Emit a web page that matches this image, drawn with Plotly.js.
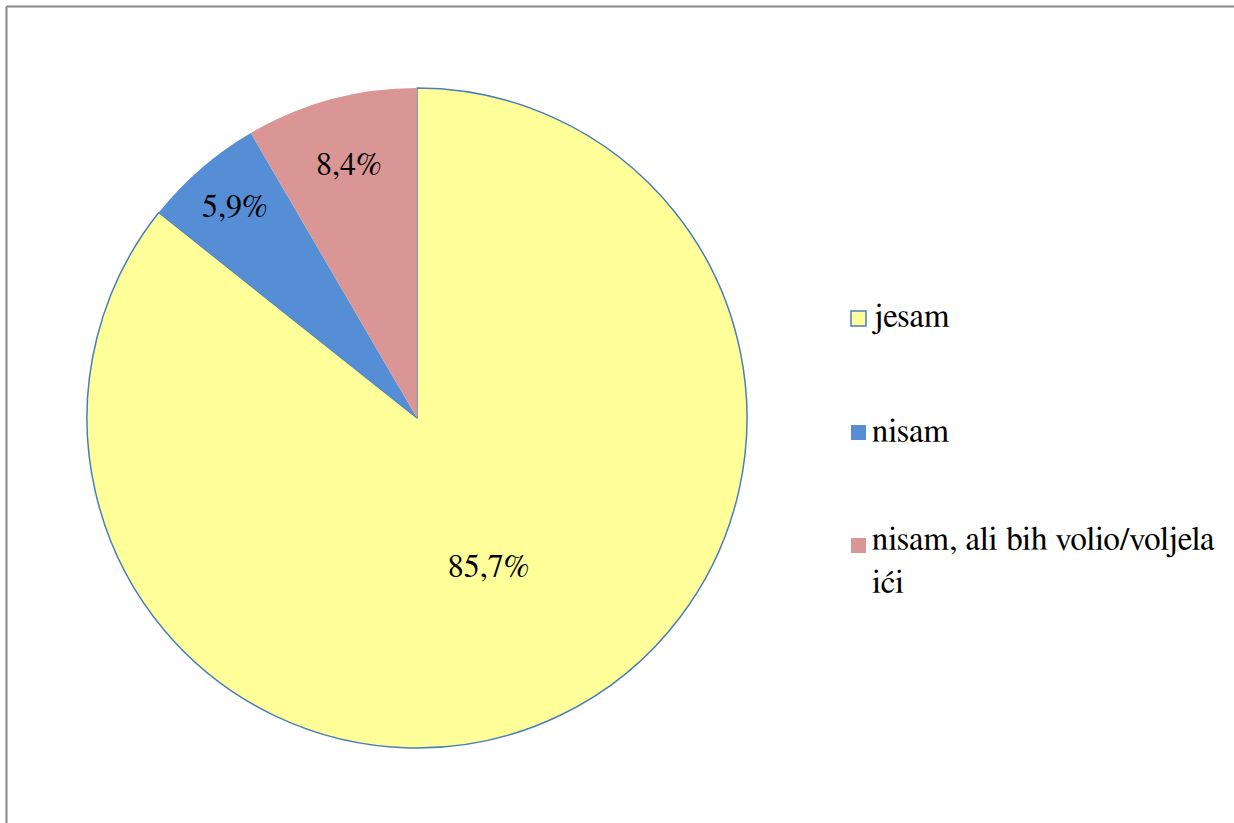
<!DOCTYPE html>
<html>
<head>
<meta charset="utf-8">
<script src="https://cdn.plot.ly/plotly-3.0.1.min.js"></script>
<style>
html,body{margin:0;padding:0;background:#fff;}
#chart{width:1234px;height:823px;}
</style>
</head>
<body>
<div id="chart"></div>
<script>
const categories = ["jesam", "nisam", "nisam, ali bih volio/voljela<br>ići"];
const values = [85.7, 5.9, 8.4];
const valueLabels = ["85,7%", "5,9%", "8,4%"];
const colors = ["#FFFF99", "#558ED5", "#D99694"];

const W = 1234, H = 823;
const FONT = "FreeSerif";

const trace = {
  type: "pie",
  labels: categories,
  values: values,
  text: valueLabels,
  texttemplate: "%{text}",
  textinfo: "text",
  textposition: "inside",
  insidetextorientation: "horizontal",
  insidetextfont: {family: FONT, size: 32, color: "#000"},
  sort: false,
  direction: "clockwise",
  rotation: 0,
  marker: {
    colors: colors,
    line: {color: ["#4A7EBB", "rgba(0,0,0,0)", "rgba(0,0,0,0)"], width: [1.5, 0, 0]}
  },
  domain: {x: [87/W, 747/W], y: [(H-748)/H, (H-88)/H]},
  hoverinfo: "none",
  showlegend: false
};

// legend drawn from categories/colors
const legendY = [318, 432, 545];
const annotations = [];
const shapes = [];
categories.forEach((c, i) => {
  annotations.push({
    xref: "paper", yref: "paper",
    x: 870/W, y: (H - legendY[i])/H,
    xanchor: "left", yanchor: i === 2 ? "top" : "middle",
    yshift: i === 2 ? 23 : 0,
    align: "left",
    showarrow: false,
    text: c,
    font: {family: FONT, size: 33, color: "#000"}
  });
  shapes.push({
    type: "rect", xref: "paper", yref: "paper",
    x0: 851/W, x1: 866/W,
    y0: (H - legendY[i] - 8)/H, y1: (H - legendY[i] + 7)/H,
    fillcolor: colors[i],
    line: {color: i === 0 ? "#4A7EBB" : colors[i], width: i === 0 ? 1.5 : 0}
  });
});
// outer frame (top and left edges)
shapes.push({type: "line", xref: "paper", yref: "paper", x0: 6.5/W, x1: 1, y0: (H-6.5)/H, y1: (H-6.5)/H, line: {color: "#888", width: 2}});
shapes.push({type: "line", xref: "paper", yref: "paper", x0: 6.5/W, x1: 6.5/W, y0: 0, y1: (H-6.5)/H, line: {color: "#888", width: 2}});

const layout = {
  width: W, height: H,
  margin: {l: 0, r: 0, t: 0, b: 0},
  paper_bgcolor: "#fff",
  plot_bgcolor: "#fff",
  showlegend: false,
  annotations: annotations,
  shapes: shapes
};

Plotly.newPlot("chart", [trace], layout, {displayModeBar: false, staticPlot: true});
</script>
</body>
</html>
